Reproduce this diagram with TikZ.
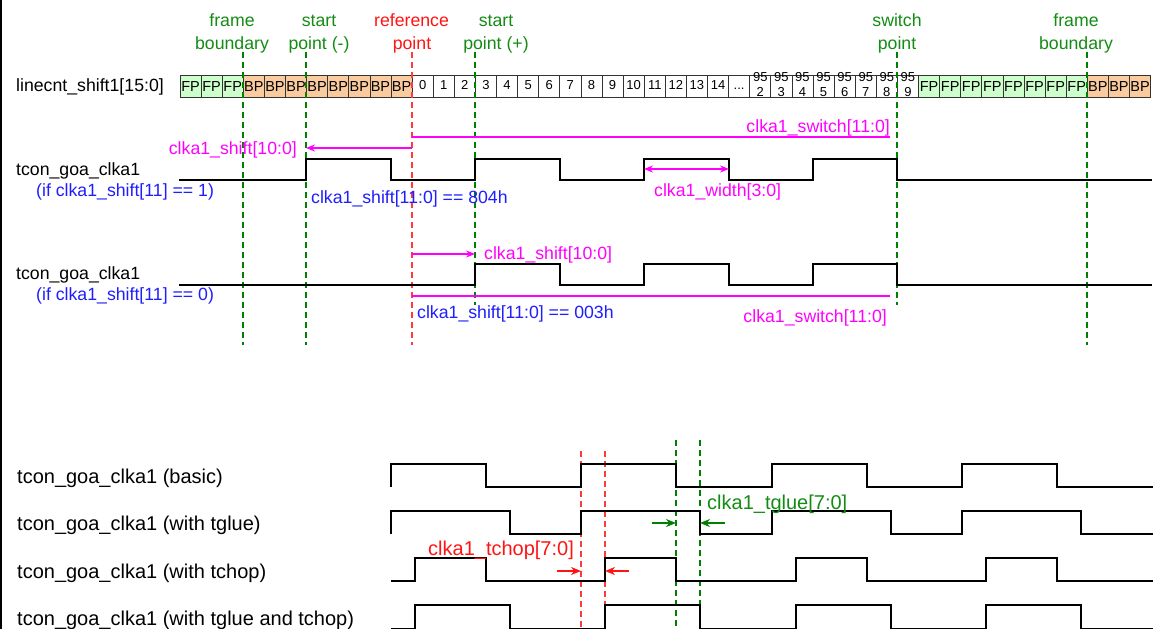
\documentclass[tikz,border=0pt]{standalone}
\usepackage{fontspec}
\setmainfont{Liberation Sans}
\usetikzlibrary{arrows.meta}
\definecolor{fpgreen}{RGB}{204,255,204}
\definecolor{bporange}{RGB}{250,203,158}
\definecolor{dgreen}{RGB}{0,128,0}
\definecolor{tgreen}{RGB}{20,140,20}
\definecolor{refred}{RGB}{255,60,60}
\definecolor{tred}{RGB}{255,20,20}
\definecolor{magpink}{RGB}{255,0,255}
\definecolor{tblue}{RGB}{30,30,255}
\begin{document}
\begin{tikzpicture}[x=1pt,y=-1pt,
  lbl/.style={inner sep=0pt,font=\fontsize{17.7}{20}\selectfont},
  blbl/.style={inner sep=0pt,font=\fontsize{20}{23}\selectfont},
  glabel/.style={lbl,text=tgreen,anchor=base},
  rlabel/.style={lbl,text=tred,anchor=base},
  plabel/.style={lbl,text=magpink},
  bluelabel/.style={lbl,text=tblue},
  cellbox/.style={draw=black!80,line width=0.8pt,minimum width=21.1pt,minimum height=22pt,inner sep=0pt},
  celltxt/.style={inner sep=0pt,font=\fontsize{14.5}{16}\selectfont,anchor=base},
  numtxt/.style={inner sep=0pt,font=\fontsize{13}{14}\selectfont,anchor=base},
  gdash/.style={draw=dgreen,line width=2pt,dash pattern=on 6pt off 4pt},
  rdash/.style={draw=refred,line width=2pt,dash pattern=on 6pt off 4pt},
  wave/.style={draw=black,line width=2pt,line join=miter},
  parrow/.style={draw=magpink,line width=2pt,-{Stealth[length=9pt,width=7pt]}},
  pdarrow/.style={draw=magpink,line width=2pt,{Stealth[length=9pt,width=7pt]}-{Stealth[length=9pt,width=7pt]}},
  pline/.style={draw=magpink,line width=2pt},
  garrow/.style={draw=dgreen,line width=2pt,-{Stealth[length=10pt,width=8pt]}},
  rarrow/.style={draw=tred,line width=2pt,-{Stealth[length=10pt,width=8pt]}}
]
\useasboundingbox (0,0) rectangle (1157,629);
\fill[white] (0,0) rectangle (1157,629);
\draw[line width=2pt] (1,0) -- (1,629);

% ---------- top labels ----------
\node[glabel] (fbl1) at (232,27) {frame};
\node[glabel] (fbl2) at (232,49) {boundary};
\node[glabel] (spm1) at (319,27) {start};
\node[glabel] (spm2) at (319,49) {point (-)};
\node[rlabel] (ref1) at (411.5,27) {reference};
\node[rlabel] (ref2) at (412,49) {point};
\node[glabel] (spp1) at (496,27) {start};
\node[glabel] (spp2) at (496,49) {point (+)};
\node[glabel] (sw1) at (897,27) {switch};
\node[glabel] (sw2) at (897,49) {point};
\node[glabel] (fbr1) at (1076,27) {frame};
\node[glabel] (fbr2) at (1076,49) {boundary};

% ---------- line counter row ----------
\node[lbl,anchor=base west] (lc) at (16,91) {linecnt\_shift1[15:0]};
\foreach \i in {0,1,2}
  \node[cellbox,fill=fpgreen] (c\i) at ({180+(\i+0.5)*21.1},86) {};
\foreach \i in {3,...,10}
  \node[cellbox,fill=bporange] (c\i) at ({180+(\i+0.5)*21.1},86) {};
\foreach \i in {11,...,34}
  \node[cellbox,fill=white] (c\i) at ({180+(\i+0.5)*21.1},86) {};
\foreach \i in {35,...,42}
  \node[cellbox,fill=fpgreen] (c\i) at ({180+(\i+0.5)*21.1},86) {};
\foreach \i in {43,44,45}
  \node[cellbox,fill=bporange] (c\i) at ({180+(\i+0.5)*21.1},86) {};
\foreach \i in {0,1,2,35,36,37,38,39,40,41,42}
  \node[celltxt] at ([yshift=-5.5pt]c\i.center) {FP};
\foreach \i in {3,...,10,43,44,45}
  \node[celltxt] at ([yshift=-5.5pt]c\i.center) {BP};
\foreach \n [evaluate=\n as \k using int(\n+11)] in {0,...,14}
  \node[numtxt] at ([yshift=-3.5pt]c\k.center) {\n};
\node[numtxt] at ([yshift=-3.5pt]c26.center) {...};
\foreach \d [evaluate=\d as \k using int(\d+25)] in {2,...,9}{
  \node[numtxt] at ([yshift=4.5pt]c\k.center) {95};
  \node[numtxt] at ([yshift=-10.5pt]c\k.center) {\d};
}

% ---------- vertical dashed markers (top) ----------
\draw[gdash] (243,52) -- (243,345);
\draw[gdash] (306,52) -- (306,345);
\draw[rdash] (412,52) -- (412,345);
\draw[gdash] (475,52) -- (475,305);
\draw[gdash] (897,52) -- (897,305);
\draw[gdash] (1087,52) -- (1087,345);

% ---------- waveform labels ----------
\node[lbl,anchor=base west] (w1a) at (16,175) {tcon\_goa\_clka1};
\node[bluelabel,anchor=base west] (w1b) at (36,196) {(if clka1\_shift[11] == 1)};
\node[lbl,anchor=base west] (w2a) at (16,279.5) {tcon\_goa\_clka1};
\node[bluelabel,anchor=base west] (w2b) at (36,300) {(if clka1\_shift[11] == 0)};

% ---------- waveforms (top) ----------
\draw[wave] (179,180) -- (306,180) -- (306,159) -- (391,159) -- (391,180)
  -- (475,180) -- (475,159) -- (560,159) -- (560,180)
  -- (644,180) -- (644,159) -- (729,159) -- (729,180)
  -- (813,180) -- (813,159) -- (897,159) -- (897,180) -- (1152,180);
\draw[wave] (179,285) -- (475,285) -- (475,264) -- (560,264) -- (560,285)
  -- (644,285) -- (644,264) -- (729,264) -- (729,285)
  -- (813,285) -- (813,264) -- (897,264) -- (897,285) -- (1152,285);

% ---------- pink annotations ----------
\coordinate (swA) at (412,137);
\coordinate (swB) at (890,137);
\draw[pline] (swA) -- (swB);
\node[plabel,anchor=base east] (swl1) at (890,132) {clka1\_switch[11:0]};
\coordinate (shA) at (412,148);
\coordinate (shB) at (306,148);
\draw[parrow] (shA) -- (shB);
\node[plabel,anchor=base east] (shl1) at (297,154) {clka1\_shift[10:0]};
\node[bluelabel,anchor=base west] (v804) at (311,203) {clka1\_shift[11:0] == 804h};
\coordinate (wdA) at (644,169);
\coordinate (wdB) at (729,169);
\draw[pdarrow] (wdA) -- (wdB);
\node[plabel,anchor=base west] (wdl) at (654,196) {clka1\_width[3:0]};
\coordinate (sh2A) at (412,254);
\coordinate (sh2B) at (475,254);
\draw[parrow] (sh2A) -- (sh2B);
\node[plabel,anchor=base west] (shl2) at (484,259) {clka1\_shift[10:0]};
\coordinate (sw2A) at (412,296);
\coordinate (sw2B) at (890,296);
\draw[pline] (sw2A) -- (sw2B);
\node[bluelabel,anchor=base west] (v003) at (417,318) {clka1\_shift[11:0] == 003h};
\node[plabel,anchor=base east] (swl2) at (887,322) {clka1\_switch[11:0]};

% ---------- bottom section ----------
\node[blbl,anchor=base west] (b1) at (17,483) {tcon\_goa\_clka1 (basic)};
\node[blbl,anchor=base west] (b2) at (17,530) {tcon\_goa\_clka1 (with tglue)};
\node[blbl,anchor=base west] (b3) at (17,578) {tcon\_goa\_clka1 (with tchop)};
\node[blbl,anchor=base west] (b4) at (17,625) {tcon\_goa\_clka1 (with tglue and tchop)};

\draw[rdash] (581,451) -- (581,629);
\draw[rdash] (605,451) -- (605,629);
\draw[gdash] (676,440) -- (676,629);
\draw[gdash] (700,440) -- (700,629);

\draw[wave] (391,487) -- (391,464) -- (486,464) -- (486,487) -- (581,487) -- (581,464)
  -- (676,464) -- (676,487) -- (772,487) -- (772,464) -- (867,464) -- (867,487)
  -- (962,487) -- (962,464) -- (1057,464) -- (1057,487) -- (1153,487);
\draw[wave] (391,534) -- (391,511) -- (510,511) -- (510,534) -- (581,534) -- (581,511)
  -- (700,511) -- (700,534) -- (772,534) -- (772,511) -- (891,511) -- (891,534)
  -- (962,534) -- (962,511) -- (1081,511) -- (1081,534) -- (1153,534);
\draw[wave] (391,581) -- (415,581) -- (415,558) -- (486,558) -- (486,581) -- (605,581)
  -- (605,558) -- (676,558) -- (676,581) -- (796,581) -- (796,558) -- (867,558)
  -- (867,581) -- (986,581) -- (986,558) -- (1057,558) -- (1057,581) -- (1153,581);
\draw[wave] (391,628.5) -- (415,628.5) -- (415,605) -- (510,605) -- (510,628.5) -- (605,628.5)
  -- (605,605) -- (700,605) -- (700,628.5) -- (796,628.5) -- (796,605) -- (891,605)
  -- (891,628.5) -- (986,628.5) -- (986,605) -- (1081,605) -- (1081,628.5) -- (1153,628.5);

\coordinate (tgA) at (652,523);
\coordinate (tgB) at (676,523);
\coordinate (tgC) at (725,523);
\coordinate (tgD) at (700,523);
\draw[garrow] (tgA) -- (tgB);
\draw[garrow] (tgC) -- (tgD);
\node[blbl,text=tgreen,anchor=base west] (tgl) at (707,509) {clka1\_tglue[7:0]};

\coordinate (tcA) at (557,571);
\coordinate (tcB) at (581,571);
\coordinate (tcC) at (629,571);
\coordinate (tcD) at (605,571);
\draw[rarrow] (tcA) -- (tcB);
\draw[rarrow] (tcC) -- (tcD);
\node[blbl,text=tred,anchor=base west] (tcl) at (428,555) {clka1\_tchop[7:0]};
\end{tikzpicture}
\end{document}
